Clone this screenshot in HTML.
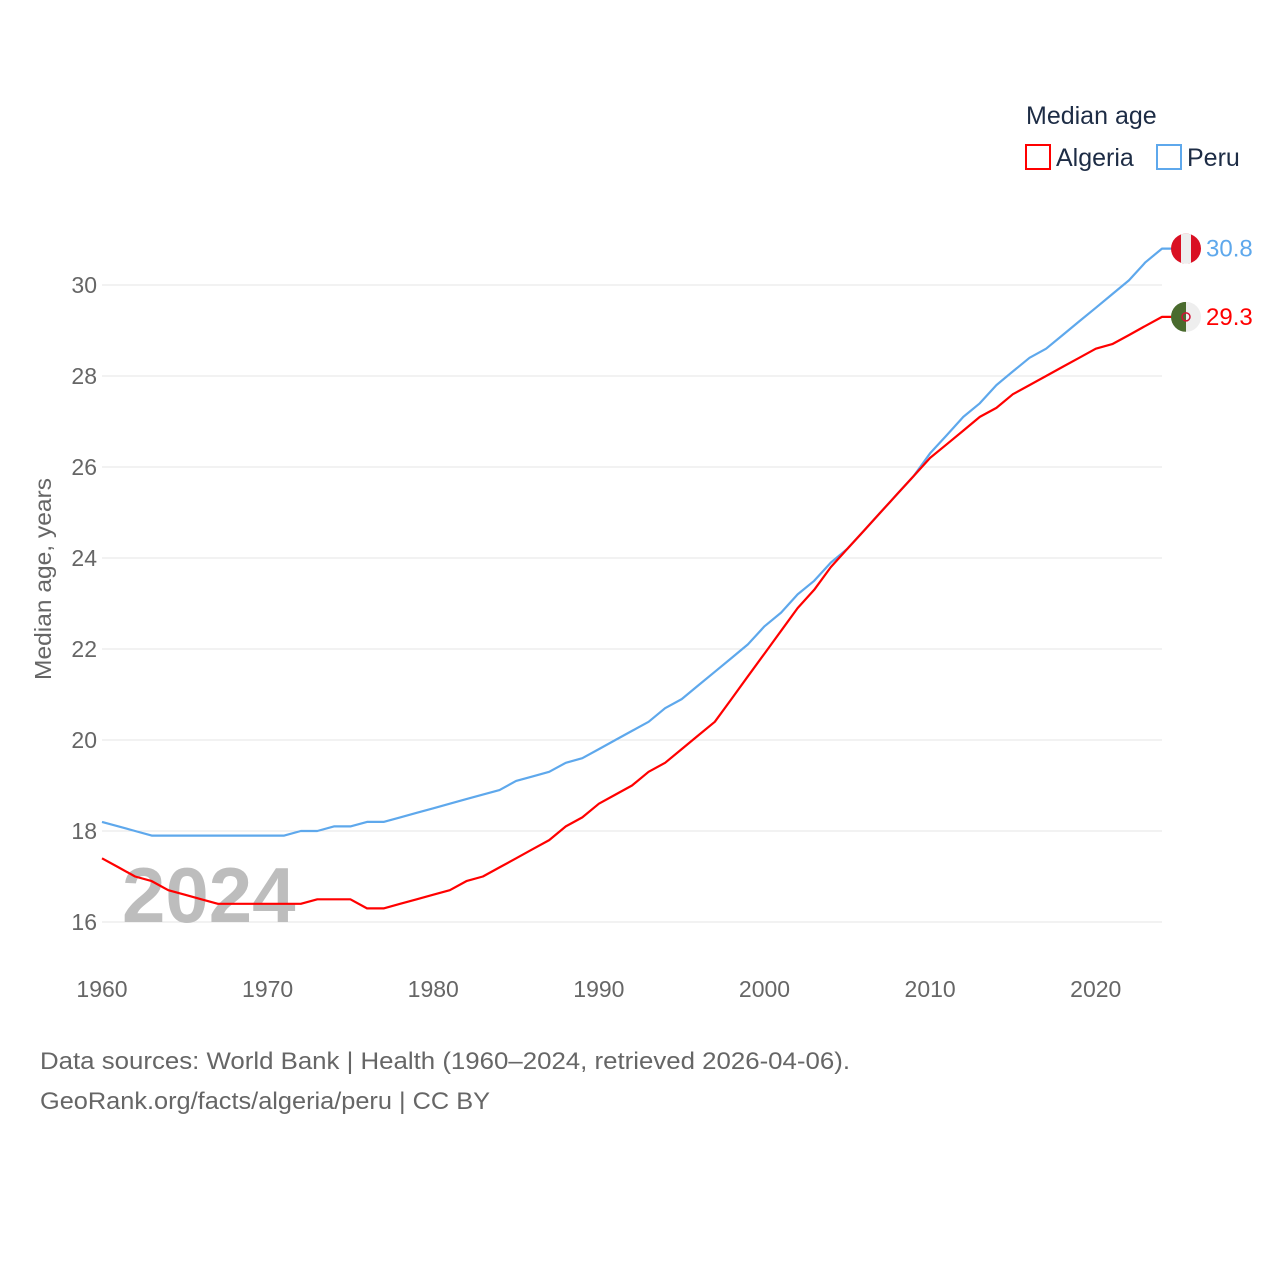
<!DOCTYPE html>
<html><head><meta charset="utf-8"><style>
body{margin:0;background:#fff;}
svg text{font-family:"Liberation Sans",sans-serif;}
</style></head><body>
<svg id="chart" width="1280" height="1280" xmlns="http://www.w3.org/2000/svg">
<rect width="1280" height="1280" fill="#fff"/>
<g id="grid"></g>
<g id="yticks"></g>
<g id="xticks"></g>
<text x="122" y="922" font-size="78" font-weight="bold" fill="#bdbdbd">2024</text>
<text transform="translate(51,579) rotate(-90)" text-anchor="middle" font-size="23" fill="#666" textLength="202" lengthAdjust="spacingAndGlyphs">Median age, years</text>
<g id="series"></g>
<g>
<text x="1026" y="124" font-size="25" fill="#1d2c45">Median age</text>
<rect x="1026" y="145" width="24" height="24" fill="none" stroke="#f00" stroke-width="2"/>
<text x="1056" y="166" font-size="25" fill="#1d2c45">Algeria</text>
<rect x="1157" y="145" width="24" height="24" fill="none" stroke="#5ea8ec" stroke-width="2"/>
<text x="1187" y="166" font-size="25" fill="#1d2c45">Peru</text>
</g>
<g id="ends"></g>
<text x="40" y="1069" font-size="24" fill="#666" textLength="810" lengthAdjust="spacingAndGlyphs">Data sources: World Bank | Health (1960–2024, retrieved 2026-04-06).</text>
<text x="40" y="1109" font-size="24" fill="#666" textLength="450" lengthAdjust="spacingAndGlyphs">GeoRank.org/facts/algeria/peru | CC BY</text>
</svg>
<script>
const years=[];for(let y=1960;y<=2024;y++)years.push(y);
const algeria=[17.4,17.2,17.0,16.9,16.7,16.6,16.5,16.4,16.4,16.4,16.4,16.4,16.4,16.5,16.5,16.5,16.3,16.3,16.4,16.5,16.6,16.7,16.9,17.0,17.2,17.4,17.6,17.8,18.1,18.3,18.6,18.8,19.0,19.3,19.5,19.8,20.1,20.4,20.9,21.4,21.9,22.4,22.9,23.3,23.8,24.2,24.6,25.0,25.4,25.8,26.2,26.5,26.8,27.1,27.3,27.6,27.8,28.0,28.2,28.4,28.6,28.7,28.9,29.1,29.3];
const peru=[18.2,18.1,18.0,17.9,17.9,17.9,17.9,17.9,17.9,17.9,17.9,17.9,18.0,18.0,18.1,18.1,18.2,18.2,18.3,18.4,18.5,18.6,18.7,18.8,18.9,19.1,19.2,19.3,19.5,19.6,19.8,20.0,20.2,20.4,20.7,20.9,21.2,21.5,21.8,22.1,22.5,22.8,23.2,23.5,23.9,24.2,24.6,25.0,25.4,25.8,26.3,26.7,27.1,27.4,27.8,28.1,28.4,28.6,28.9,29.2,29.5,29.8,30.1,30.5,30.8];
const yTicks=[16,18,20,22,24,26,28,30];
const xTicks=[1960,1970,1980,1990,2000,2010,2020];
const NS="http://www.w3.org/2000/svg";
const X=v=>102+(v-1960)*(1162-102)/64;
const Y=v=>922-(v-16)*(922-285)/14;
function mk(t,a,p,txt){const e=document.createElementNS(NS,t);for(const k in a)e.setAttribute(k,a[k]);if(txt!==undefined)e.textContent=txt;p.appendChild(e);return e;}
const g=document.getElementById('grid'),yt=document.getElementById('yticks'),xt=document.getElementById('xticks');
yTicks.forEach(v=>{
 const l=mk('line',{x1:102,x2:1162,y1:Y(v),y2:Y(v),stroke:'#e6e6e6','stroke-width':1},g);
 
 
 const t=mk('text',{x:97,y:Y(v)+8,'text-anchor':'end','font-size':23,fill:'#666'},yt,String(v));
 
 
});
xTicks.forEach(v=>{
 const t=mk('text',{x:X(v),y:997,'text-anchor':'middle','font-size':23,fill:'#666'},xt,String(v));
 
 
});
const s=document.getElementById('series');
function line(data,color,name){
 const d=data.map((v,i)=>(i?'L':'M')+X(years[i]).toFixed(1)+','+Y(v).toFixed(1)).join('')+'L1172,'+Y(data[data.length-1]).toFixed(1);
 const p=mk('path',{d:d,fill:'none',stroke:color,'stroke-width':2.2,'stroke-linejoin':'round'},s);
 
 
}
line(peru,'#5ea8ec','line-peru');
line(algeria,'#f00','line-algeria');
const e=document.getElementById('ends');
function flagLabel(v,color,name,kind){
 const cy=Y(v),cx=1186;
 const gr=mk('g',{},e);
 
 
 mk('clipPath',{id:'c'+name},gr);
 const cp=gr.lastChild;mk('circle',{cx:cx,cy:cy,r:15},cp);
 const inner=mk('g',{'clip-path':'url(#c'+name+')'},gr);
 if(kind==='peru'){
  mk('rect',{x:cx-15,y:cy-15,width:30,height:30,fill:'#d91023'},inner);
  mk('rect',{x:cx-5,y:cy-15,width:10,height:30,fill:'#eee'},inner);
 }else{
  mk('rect',{x:cx-15,y:cy-15,width:15,height:30,fill:'#4a6b2e'},inner);
  mk('rect',{x:cx,y:cy-15,width:15,height:30,fill:'#eee'},inner);
  mk('circle',{cx:cx,cy:cy,r:4,fill:'none',stroke:'#d21034','stroke-width':1.5},inner);
 }
 const t=mk('text',{x:1206,y:cy+8,'font-size':24,fill:color},e,v.toFixed(1));
 
 
}
flagLabel(peru[peru.length-1],'#5ea8ec','peru','peru');
flagLabel(algeria[algeria.length-1],'#f00','algeria','algeria');
</script>
</body></html>
